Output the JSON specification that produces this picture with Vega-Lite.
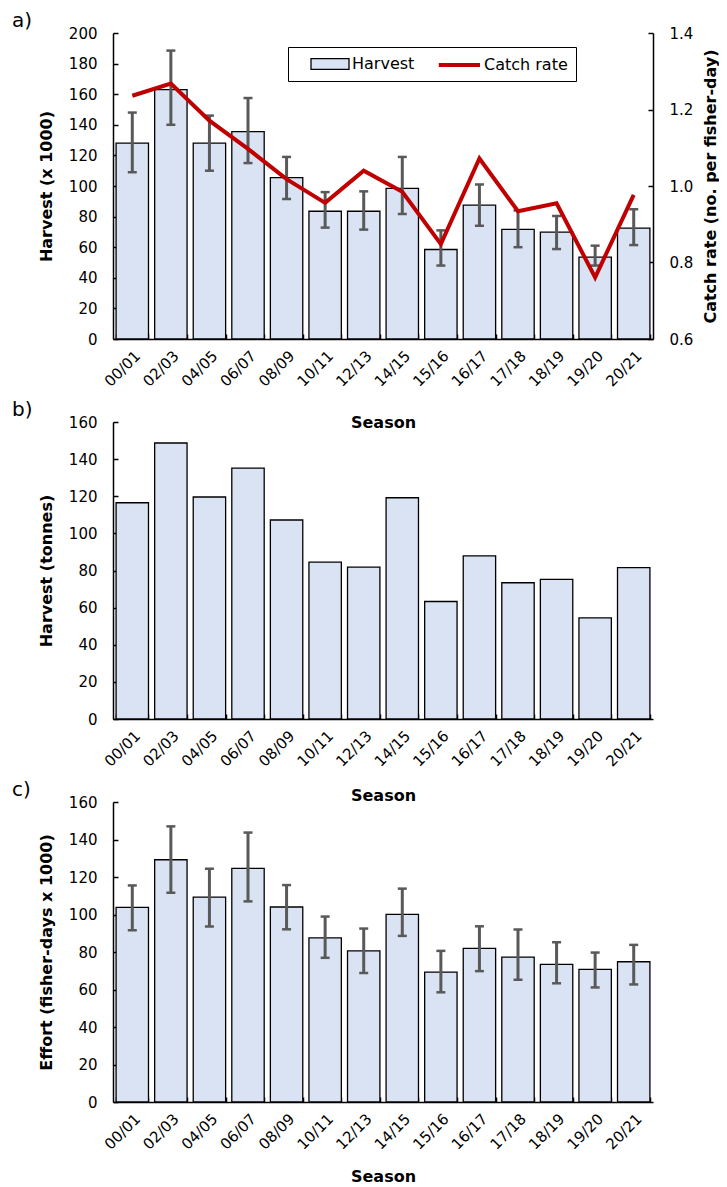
{
  "$schema": "https://vega.github.io/schema/vega-lite/v6.json",
  "padding": {"left": 12, "top": 11, "right": 0, "bottom": 2},
  "datasets": {
    "seasons": [
      {"Season": "00/01", "harvest": 128, "hlo": 109, "hhi": 148, "catch": 1.236, "tonnes": 116.5, "effort": 103.8, "elo": 91.6, "ehi": 115.5},
      {"Season": "02/03", "harvest": 163, "hlo": 140, "hhi": 188.5, "catch": 1.268, "tonnes": 148.7, "effort": 129.2, "elo": 111.6, "ehi": 147},
      {"Season": "04/05", "harvest": 128, "hlo": 110, "hhi": 146, "catch": 1.171, "tonnes": 119.6, "effort": 109.3, "elo": 93.6, "ehi": 124.4},
      {"Season": "06/07", "harvest": 135.5, "hlo": 115, "hhi": 157.5, "catch": 1.097, "tonnes": 135.2, "effort": 124.6, "elo": 107, "ehi": 143.7},
      {"Season": "08/09", "harvest": 105.5, "hlo": 91.5, "hhi": 119, "catch": 1.018, "tonnes": 107.2, "effort": 104, "elo": 92.1, "ehi": 115.7},
      {"Season": "10/11", "harvest": 83.5, "hlo": 72.8, "hhi": 96, "catch": 0.956, "tonnes": 84.5, "effort": 87.5, "elo": 76.9, "ehi": 98.9},
      {"Season": "12/13", "harvest": 83.5, "hlo": 71.5, "hhi": 96.5, "catch": 1.04, "tonnes": 81.8, "effort": 80.6, "elo": 68.8, "ehi": 92.5},
      {"Season": "14/15", "harvest": 98.5, "hlo": 81.7, "hhi": 119, "catch": 0.985, "tonnes": 119.2, "effort": 100.1, "elo": 88.6, "ehi": 113.8},
      {"Season": "15/16", "harvest": 58.5, "hlo": 48, "hhi": 71, "catch": 0.848, "tonnes": 63.3, "effort": 69.3, "elo": 58.5, "ehi": 80.6},
      {"Season": "16/17", "harvest": 87.5, "hlo": 74, "hhi": 101, "catch": 1.072, "tonnes": 87.9, "effort": 81.9, "elo": 69.8, "ehi": 93.7},
      {"Season": "17/18", "harvest": 71.7, "hlo": 60, "hhi": 84, "catch": 0.934, "tonnes": 73.4, "effort": 77.3, "elo": 65.2, "ehi": 92},
      {"Season": "18/19", "harvest": 69.8, "hlo": 58.8, "hhi": 80.4, "catch": 0.955, "tonnes": 75.2, "effort": 73.4, "elo": 63.3, "ehi": 85.2},
      {"Season": "19/20", "harvest": 53.5, "hlo": 48, "hhi": 61, "catch": 0.761, "tonnes": 54.5, "effort": 70.7, "elo": 61.1, "ehi": 79.7},
      {"Season": "20/21", "harvest": 72.5, "hlo": 61.4, "hhi": 84.8, "catch": 0.977, "tonnes": 81.6, "effort": 74.8, "elo": 62.7, "ehi": 83.8}
    ]
  },
  "data": {"name": "seasons"},
  "vconcat": [
    {
      "width": 540,
      "height": 306,
      "title": {"text": "a)", "anchor": "start", "frame": "group", "dx": -101, "offset": -5, "fontSize": 20, "fontWeight": "normal", "font": "DejaVu Sans", "color": "black"},
      "layer": [
        {
          "layer": [
            {
              "mark": {"type": "bar", "stroke": "black", "strokeWidth": 1.3},
              "encoding": {
                "x": {"field": "Season", "type": "ordinal", "sort": null, "scale": {"paddingInner": 0.16, "paddingOuter": 0.08},
                  "axis": {"title": "Season", "labelAngle": -45, "tickBand": "extent", "tickSize": -5, "labelPadding": 14, "titlePadding": 25}},
                "y": {"field": "harvest", "type": "quantitative", "title": "Harvest (x 1000)", "scale": {"domain": [0, 200]},
                  "axis": {"title": "Harvest (x 1000)", "values": [0, 20, 40, 60, 80, 100, 120, 140, 160, 180, 200], "labelOverlap": false, "tickSize": -5, "labelPadding": 21, "titlePadding": 14}},
                "fill": {"datum": "Harvest", "type": "nominal",
                  "scale": {"domain": ["Harvest"], "range": ["#dae3f3"]},
                  "legend": {
                    "orient": "none", "legendX": 175, "legendY": 14, "direction": "horizontal", "title": null,
                    "padding": 8, "zindex": 2,
                    "labelFont": "DejaVu Sans", "labelFontSize": 16, "labelColor": "black", "labelOffset": 38,
                    "symbolSize": 256, "symbolType": "M0.75,-0.66H5.5V0.66H0.75Z",
                    "symbolStrokeColor": "black", "symbolStrokeWidth": 1.3, "symbolOpacity": 1
                  }}
              }
            },
            {
              "mark": {"type": "rule", "color": "#595959", "strokeWidth": 3},
              "encoding": {
                "x": {"field": "Season", "type": "ordinal", "sort": null},
                "y": {"field": "hlo", "type": "quantitative", "title": "Harvest (x 1000)", "scale": {"domain": [0, 200]},
                  "axis": {"title": "Harvest (x 1000)", "values": [0, 20, 40, 60, 80, 100, 120, 140, 160, 180, 200], "labelOverlap": false, "tickSize": -5, "labelPadding": 21, "titlePadding": 14}},
                "y2": {"field": "hhi"}
              }
            },
            {
              "mark": {"type": "tick", "color": "#595959", "size": 9, "thickness": 2.5, "opacity": 1},
              "encoding": {
                "x": {"field": "Season", "type": "ordinal", "sort": null},
                "y": {"field": "hlo", "type": "quantitative", "title": "Harvest (x 1000)", "scale": {"domain": [0, 200]},
                  "axis": {"title": "Harvest (x 1000)", "values": [0, 20, 40, 60, 80, 100, 120, 140, 160, 180, 200], "labelOverlap": false, "tickSize": -5, "labelPadding": 21, "titlePadding": 14}}
              }
            },
            {
              "mark": {"type": "tick", "color": "#595959", "size": 9, "thickness": 2.5, "opacity": 1},
              "encoding": {
                "x": {"field": "Season", "type": "ordinal", "sort": null},
                "y": {"field": "hhi", "type": "quantitative", "title": "Harvest (x 1000)", "scale": {"domain": [0, 200]},
                  "axis": {"title": "Harvest (x 1000)", "values": [0, 20, 40, 60, 80, 100, 120, 140, 160, 180, 200], "labelOverlap": false, "tickSize": -5, "labelPadding": 21, "titlePadding": 14}}
              }
            }
          ]
        },
        {
          "mark": {"type": "line", "strokeWidth": 4},
          "encoding": {
            "x": {"field": "Season", "type": "ordinal", "sort": null},
            "y": {"field": "catch", "type": "quantitative", "scale": {"domain": [0.6, 1.4], "zero": false},
              "axis": {"orient": "right", "title": "Catch rate (no. per fisher-day)", "values": [0.6, 0.8, 1.0, 1.2, 1.4], "format": ".1f", "tickSize": -5, "labelPadding": 21, "titlePadding": 10, "titleAngle": -90, "titleBaseline": "top"}},
            "stroke": {"datum": "Catch rate", "type": "nominal",
              "scale": {"domain": ["Catch rate"], "range": ["#c00000"]},
              "legend": {
                "orient": "none", "legendX": 175, "legendY": 14, "direction": "horizontal", "title": null,
                "strokeColor": "black", "padding": 8, "zindex": 1,
                "labelFont": "DejaVu Sans", "labelFontSize": 16, "labelColor": "black", "labelOffset": 168,
                "symbolSize": 256, "symbolType": "M16.6,0H21.75",
                "symbolStrokeWidth": 4, "symbolFillColor": "transparent", "symbolOpacity": 1
              }}
          }
        }
      ],
      "resolve": {"scale": {"y": "independent"}}
    },
    {
      "width": 540,
      "height": 297,
      "title": {"text": "b)", "anchor": "start", "frame": "group", "dx": -101, "offset": -5, "fontSize": 20, "fontWeight": "normal", "font": "DejaVu Sans", "color": "black"},
      "mark": {"type": "bar", "stroke": "black", "strokeWidth": 1.3, "fill": "#dae3f3"},
      "encoding": {
        "x": {"field": "Season", "type": "ordinal", "sort": null, "scale": {"paddingInner": 0.16, "paddingOuter": 0.08},
          "axis": {"title": "Season", "labelAngle": -45, "tickBand": "extent", "tickSize": -5, "labelPadding": 14, "titlePadding": 18}},
        "y": {"field": "tonnes", "type": "quantitative", "scale": {"domain": [0, 160]},
          "axis": {"title": "Harvest (tonnes)", "values": [0, 20, 40, 60, 80, 100, 120, 140, 160], "tickSize": -5, "labelPadding": 21, "titlePadding": 14}}
      }
    },
    {
      "width": 540,
      "height": 300,
      "title": {"text": "c)", "anchor": "start", "frame": "group", "dx": -101, "offset": -5, "fontSize": 20, "fontWeight": "normal", "font": "DejaVu Sans", "color": "black"},
      "layer": [
        {
          "mark": {"type": "bar", "stroke": "black", "strokeWidth": 1.3, "fill": "#dae3f3"},
          "encoding": {
            "x": {"field": "Season", "type": "ordinal", "sort": null, "scale": {"paddingInner": 0.16, "paddingOuter": 0.08},
              "axis": {"title": "Season", "labelAngle": -45, "tickBand": "extent", "tickSize": -5, "labelPadding": 14, "titlePadding": 16}},
            "y": {"field": "effort", "type": "quantitative", "title": "Effort (fisher-days x 1000)", "scale": {"domain": [0, 160]},
              "axis": {"title": "Effort (fisher-days x 1000)", "values": [0, 20, 40, 60, 80, 100, 120, 140, 160], "labelOverlap": false, "tickSize": -5, "labelPadding": 21, "titlePadding": 14}}
          }
        },
        {
          "mark": {"type": "rule", "color": "#595959", "strokeWidth": 3},
          "encoding": {
            "x": {"field": "Season", "type": "ordinal", "sort": null},
            "y": {"field": "elo", "type": "quantitative", "title": "Effort (fisher-days x 1000)", "scale": {"domain": [0, 160]},
              "axis": {"title": "Effort (fisher-days x 1000)", "values": [0, 20, 40, 60, 80, 100, 120, 140, 160], "labelOverlap": false, "tickSize": -5, "labelPadding": 21, "titlePadding": 14}},
            "y2": {"field": "ehi"}
          }
        },
        {
          "mark": {"type": "tick", "color": "#595959", "size": 9, "thickness": 2.5, "opacity": 1},
          "encoding": {
            "x": {"field": "Season", "type": "ordinal", "sort": null},
            "y": {"field": "elo", "type": "quantitative", "title": "Effort (fisher-days x 1000)", "scale": {"domain": [0, 160]},
              "axis": {"title": "Effort (fisher-days x 1000)", "values": [0, 20, 40, 60, 80, 100, 120, 140, 160], "labelOverlap": false, "tickSize": -5, "labelPadding": 21, "titlePadding": 14}}
          }
        },
        {
          "mark": {"type": "tick", "color": "#595959", "size": 9, "thickness": 2.5, "opacity": 1},
          "encoding": {
            "x": {"field": "Season", "type": "ordinal", "sort": null},
            "y": {"field": "ehi", "type": "quantitative", "title": "Effort (fisher-days x 1000)", "scale": {"domain": [0, 160]},
              "axis": {"title": "Effort (fisher-days x 1000)", "values": [0, 20, 40, 60, 80, 100, 120, 140, 160], "labelOverlap": false, "tickSize": -5, "labelPadding": 21, "titlePadding": 14}}
          }
        }
      ]
    }
  ],
  "spacing": 83,
  "bounds": "flush",
  "resolve": {"scale": {"x": "independent", "y": "independent", "fill": "independent", "stroke": "independent"}},
  "config": {
    "font": "DejaVu Sans",
    "view": {"stroke": null},
    "axis": {
      "labelFont": "DejaVu Sans", "labelFontSize": 15, "labelColor": "black",
      "titleFont": "DejaVu Sans", "titleFontSize": 16, "titleFontWeight": "bold", "titleColor": "black",
      "domainColor": "black", "domainWidth": 1.5, "tickColor": "black", "tickWidth": 1.5, "grid": false
    }
  }
}
